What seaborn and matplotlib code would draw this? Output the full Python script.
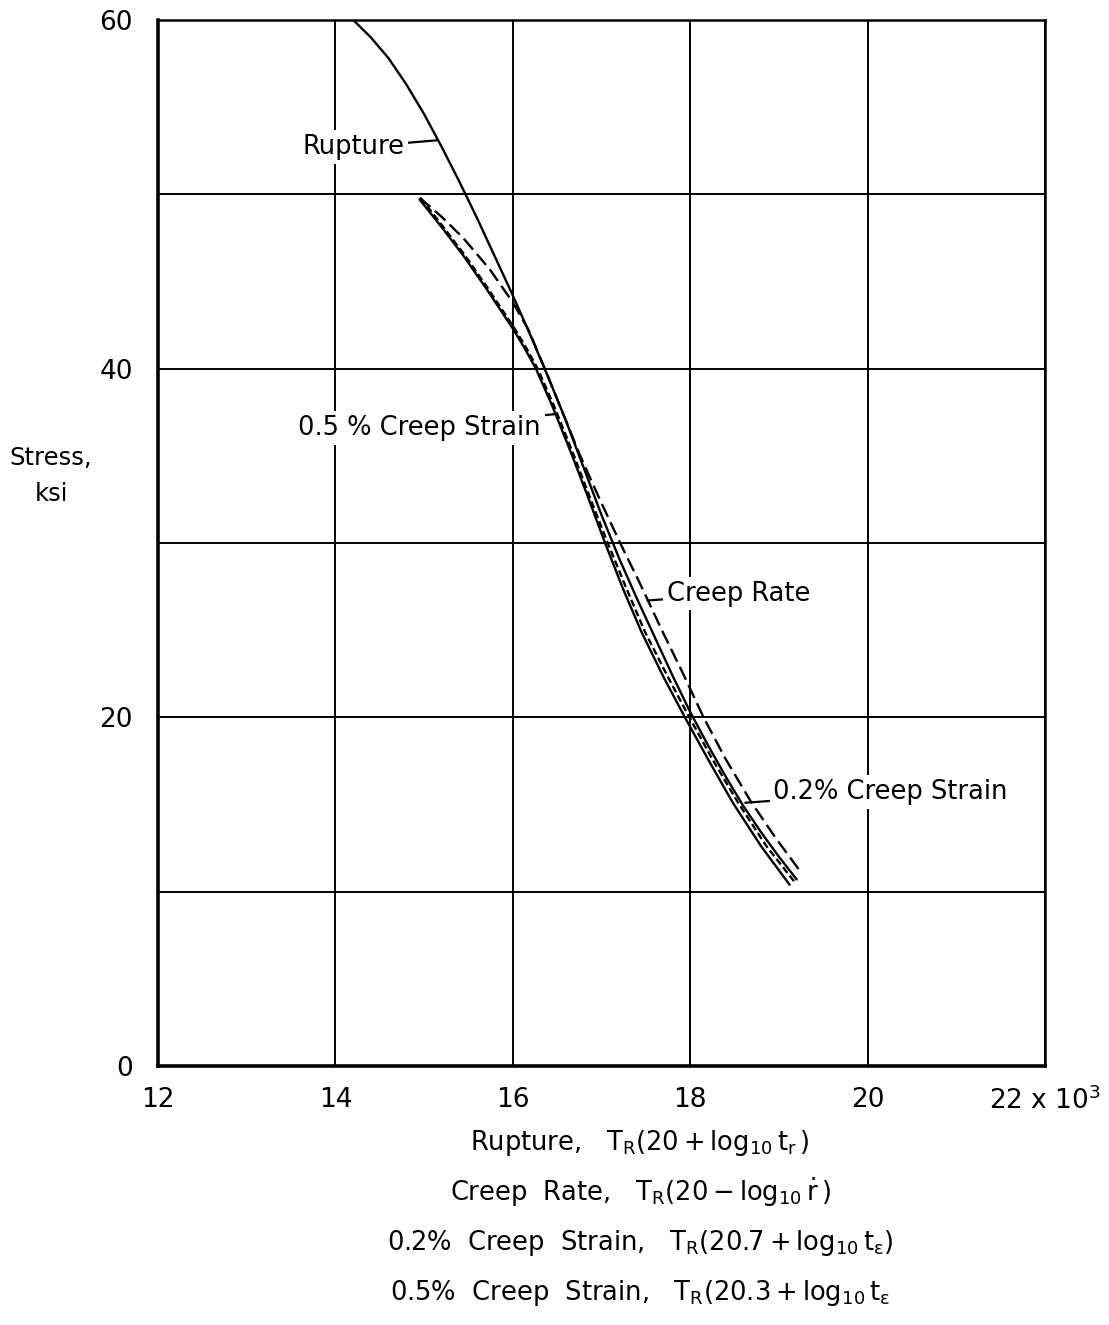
import matplotlib
matplotlib.use("Agg")
import matplotlib.pyplot as plt
import pandas as pd
import seaborn as sns

# Parameter (x 10^3) and stress (ksi) along each master curve
rupture_x = [14.20, 14.40, 14.60, 14.80, 15.00, 15.20, 15.40, 15.60, 15.80, 16.00, 16.20, 16.40,
             16.60, 16.80, 17.00, 17.20, 17.40, 17.60, 17.80, 18.00, 18.20, 18.40, 18.60, 18.80,
             19.00, 19.20]
rupture_y = [60.0, 59.0, 57.8, 56.3, 54.6, 52.7, 50.7, 48.6, 46.4, 44.2, 41.9, 39.5,
             37.0, 34.3, 31.6, 29.1, 26.8, 24.6, 22.4, 20.3, 18.4, 16.6, 14.9, 13.4,
             12.0, 10.7]

creep_rate_x = [14.95, 15.20, 15.44, 15.74, 16.00, 16.18, 16.36, 16.56, 16.76, 16.98, 17.21,
                17.45, 17.68, 17.92, 18.15, 18.40, 18.68, 18.96, 19.25]
creep_rate_y = [49.8, 48.7, 47.5, 45.7, 43.8, 42.2, 40.0, 37.5, 35.0, 32.5, 30.0,
                27.5, 25.0, 22.5, 20.0, 17.6, 15.2, 13.1, 11.1]

strain_02_x = [14.95, 15.20, 15.44, 15.70, 16.00, 16.13, 16.26, 16.45, 16.67, 16.85, 17.04,
               17.24, 17.45, 17.70, 17.94, 18.20, 18.48, 18.80, 19.12]
strain_02_y = [49.7, 48.1, 46.5, 44.6, 42.3, 41.2, 40.0, 37.8, 35.0, 32.6, 30.0,
               27.4, 24.9, 22.3, 20.0, 17.6, 15.1, 12.6, 10.4]

strain_05_x = [14.96, 15.22, 15.46, 15.72, 16.02, 16.15, 16.28, 16.47, 16.69, 16.87, 17.07,
               17.28, 17.49, 17.75, 17.99, 18.25, 18.54, 18.86, 19.17]
strain_05_y = [49.8, 48.1, 46.5, 44.6, 42.3, 41.2, 40.0, 37.8, 35.0, 32.6, 30.0,
               27.4, 24.9, 22.3, 20.0, 17.6, 15.1, 12.6, 10.6]

x_ticks = [12, 14, 16, 18, 20, 22]
x_tick_labels = ["12", "14", "16", "18", "20", r"22 x 10$^3$"]
y_ticks = [0, 10, 20, 30, 40, 50, 60]
y_tick_labels = ["0", "", "20", "", "40", "", "60"]

axis_lines = [
    r"Rupture,   $T_R(20+\log_{10}t_r\,)$",
    r"Creep  Rate,   $T_R(20-\log_{10}\dot{r}\,)$",
    r"0.2%  Creep  Strain,   $T_R(20.7+\log_{10}t_\varepsilon)$",
    r"0.5%  Creep  Strain,   $T_R(20.3+\log_{10}t_\varepsilon$",
]

frames = []
for name, xs, ys in [
    ("Rupture", rupture_x, rupture_y),
    ("Creep Rate", creep_rate_x, creep_rate_y),
    ("0.2% Creep Strain", strain_02_x, strain_02_y),
    ("0.5% Creep Strain", strain_05_x, strain_05_y),
]:
    frames.append(pd.DataFrame({"curve": name, "param": xs, "stress": ys}))
curves = pd.concat(frames, ignore_index=True)

line_styles = {
    "Rupture": "-",
    "Creep Rate": (0, (6, 2.5)),
    "0.2% Creep Strain": "-",
    "0.5% Creep Strain": (0, (3, 1.5)),
}

sns.set_theme(style="white")
plt.rcParams["font.family"] = ["DejaVu Sans"]
plt.rcParams["mathtext.default"] = "regular"
plt.rcParams["text.color"] = "black"

fig = plt.figure(figsize=(11.09, 13.25), dpi=100)
ax = fig.add_axes([0.1425, 0.1955, 0.7998, 0.7894])

for name, ls in line_styles.items():
    sub = curves[curves["curve"] == name]
    sns.lineplot(data=sub, x="param", y="stress", sort=False, estimator=None,
                 color="black", lw=1.7, linestyle=ls, ax=ax, legend=False)

ax.set_xlim(12, 22)
ax.set_ylim(0, 60)
ax.set_xticks(x_ticks)
ax.set_xticklabels(x_tick_labels)
ax.set_yticks(y_ticks)
ax.set_yticklabels(y_tick_labels)
ax.tick_params(length=0, labelsize=19, colors="black")
ax.tick_params(axis="x", pad=15)
ax.tick_params(axis="y", pad=18)
ax.grid(True, color="black", lw=1.4)
ax.set_axisbelow(True)
ax.set_xlabel("")
ax.set_ylabel("")
for side, spine in ax.spines.items():
    spine.set_color("black")
    spine.set_linewidth(2.6 if side in ("left", "bottom") else 1.8)
    spine.set_visible(True)

box = dict(boxstyle="square,pad=0.15", fc="white", ec="none")
arrow = dict(arrowstyle="-", color="black", lw=1.6, shrinkA=0, shrinkB=0)
labels = [
    ("Rupture", (15.15, 53.1), (14.20, 52.7)),
    ("0.5 % Creep Strain", (16.49, 37.4), (14.95, 36.6)),
    ("Creep Rate", (17.52, 26.7), (18.55, 27.1)),
    ("0.2% Creep Strain", (18.62, 15.1), (20.26, 15.7)),
]
for text, xy, xytext in labels:
    ax.annotate(text, xy=xy, xytext=xytext, ha="center", va="center",
                fontsize=18.5, bbox=box, arrowprops=arrow, zorder=5)

fig.text(0.046, 1 - 476 / 1325, "Stress,\nksi", ha="center", va="center",
         fontsize=17.5, linespacing=1.6)

for text, py in zip(axis_lines, [1143, 1192, 1243, 1293]):
    fig.text(640 / 1109, 1 - py / 1325, text, ha="center", va="center", fontsize=18.5)

fig.savefig("out.png", dpi=100, facecolor="white")
